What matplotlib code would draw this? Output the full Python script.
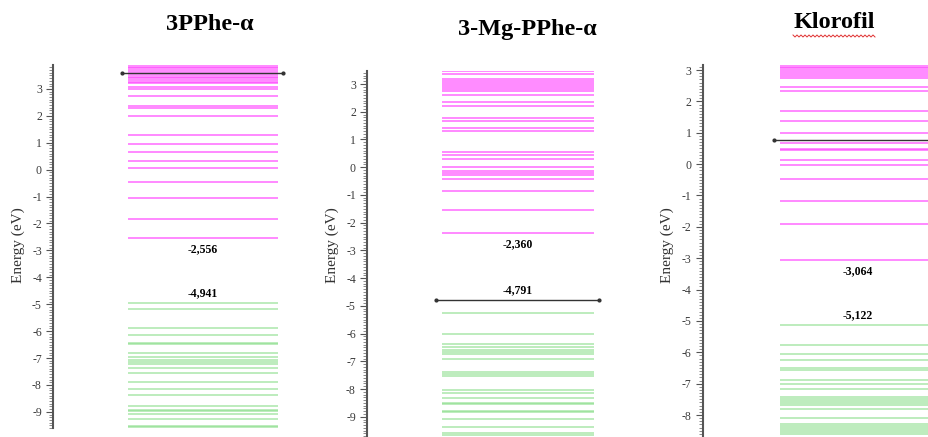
import matplotlib.pyplot as plt
from matplotlib.lines import Line2D
import numpy as np

plt.rcParams['font.family'] = ['Liberation Serif', 'DejaVu Serif']
plt.rcParams['axes.unicode_minus'] = False

# ---- data (eV) ----
titles = ['3PPhe-\u03b1', '3-Mg-PPhe-\u03b1', 'Klorofil']

# unoccupied levels (magenta)
virt1 = [3.89, 3.83, 3.77, 3.70, 3.64, 3.52, 3.46, 3.40, 3.33, 3.27, 3.21, 3.06, 2.99,
         2.72, 2.37, 2.30, 2.00, 1.28, 0.94, 0.64, 0.34, 0.05, -0.46, -1.05, -1.83, -2.556]
virt2 = [3.51, 3.46, 3.36, 3.19, 3.12, 3.05, 2.97, 2.90, 2.83, 2.76, 2.62, 2.35, 2.20,
         1.79, 1.68, 1.42, 1.32, 0.55, 0.43, 0.31, -0.01, -0.14, -0.22, -0.29, -0.43,
         -0.84, -1.53, -2.360]
virt3 = [3.15, 3.11, 3.06, 3.00, 2.95, 2.88, 2.80, 2.73, 2.47, 2.32, 1.69, 1.37, 0.98,
         0.66, 0.49, 0.46, 0.13, -0.03, -0.48, -1.17, -1.91, -3.064]

# occupied levels (green)
occ1 = [-4.941, -5.16, -5.87, -6.15, -6.44, -6.49, -6.81, -6.97, -7.06, -7.14, -7.21,
        -7.37, -7.57, -7.90, -8.15, -8.36, -8.78, -8.92, -8.98, -9.07, -9.27, -9.53, -9.57]
occ2 = [-5.25, -6.00, -6.38, -6.49, -6.58, -6.67, -6.75, -6.92, -7.38, -7.45, -7.52,
        -8.05, -8.13, -8.34, -8.49, -8.55, -8.79, -8.84, -9.07, -9.37, -9.58, -9.64]
occ3 = [-5.122, -5.76, -6.06, -6.26, -6.49, -6.56, -6.89, -7.00, -7.18, -7.43, -7.49,
        -7.56, -7.62, -7.68, -7.80, -8.10, -8.29, -8.35, -8.42, -8.48, -8.54, -8.61]

# black marker line
ref_lines = [3.59, -4.791, 0.76]
lumo = [-2.556, -2.360, -3.064]
homo = [-4.941, -4.791, -5.122]
lumo_txt = ['-2,556', '-2,360', '-3,064']
homo_txt = ['-4,941', '-4,791', '-5,122']

ylims = [(-9.6, 3.89), (-9.73, 3.47), (-8.7, 3.16)]

# ---- layout in pixels (figure 929 x 437) ----
W, H = 929, 437
# left, right, top, bottom of each axes
rects = [(53, 290, 65, 428), (367, 610, 71, 437), (702.7, 950, 65, 437)]
lev_x = [(0.316, 0.949), (0.309, 0.934), (0.3125, 0.939)]
ref_x = [(0.291, 0.970), (0.284, 0.955), (0.288, 1.0)]
title_pos = [(210, 25), (527, 29), (834, 23)]
ylab_x = [18, 332, 667]

fig = plt.figure(figsize=(W / 100, H / 100), dpi=100)

virts = [virt1, virt2, virt3]
occs = [occ1, occ2, occ3]

for i in range(3):
    l, r, t, b = rects[i]
    ax = fig.add_axes([l / W, 1 - b / H, (r - l) / W, (b - t) / H])
    ax.set_xlim(0, 1)
    ax.set_ylim(*ylims[i])
    x0, x1 = lev_x[i]
    ax.hlines(virts[i], x0, x1, colors='#ff44ff', lw=1.1, alpha=0.8)
    ax.hlines(occs[i], x0, x1, colors='#88dd88', lw=1.1, alpha=0.7)
    rx0, rx1 = ref_x[i]
    ax.plot([rx0, rx1], [ref_lines[i]] * 2, color='#333333', lw=1.0,
            marker='o', ms=2, clip_on=False)
    xc = (x0 + x1) / 2
    ax.annotate(lumo_txt[i], (xc, lumo[i]), xytext=(0, -8), textcoords='offset points',
                ha='center', va='center', fontsize=8.5, fontweight='bold')
    ax.annotate(homo_txt[i], (xc, homo[i]), xytext=(0, 7), textcoords='offset points',
                ha='center', va='center', fontsize=8.5, fontweight='bold')

    for s in ['top', 'right', 'bottom']:
        ax.spines[s].set_visible(False)
    ax.spines['left'].set_color('#555555')
    ax.spines['left'].set_linewidth(1.5)
    ax.set_xticks([])
    ax.set_yticks(np.arange(int(np.ceil(ylims[i][0])), int(ylims[i][1]) + 1))
    ax.set_yticks(np.arange(np.ceil(ylims[i][0] * 10) / 10, ylims[i][1], 0.1), minor=True)
    ax.tick_params(axis='y', which='major', length=5, width=0.8, colors='#555555',
                   labelcolor='#3a3a3a', labelsize=8.5, pad=3)
    ax.tick_params(axis='y', which='minor', length=3, width=0.6, colors='#777777')
    ax.patch.set_alpha(0)

    fig.text(ylab_x[i] / W, 1 - 245 / H, 'Energy (eV)', rotation=90, ha='center',
             va='center', fontsize=11, color='#333333')
    tx, ty = title_pos[i]
    fig.text(tx / W, 1 - ty / H, titles[i], ha='center', va='center', fontsize=17.5,
             fontweight='bold')

# spell-check squiggle under "Klorofil"
sx = np.arange(793, 876, 2.0)
sy = 35 + np.where(np.arange(len(sx)) % 2 == 0, 0, 2)
fig.add_artist(Line2D(sx / W, 1 - sy / H, color='#e03030', lw=0.7))

fig.savefig('out.png', dpi=100)
